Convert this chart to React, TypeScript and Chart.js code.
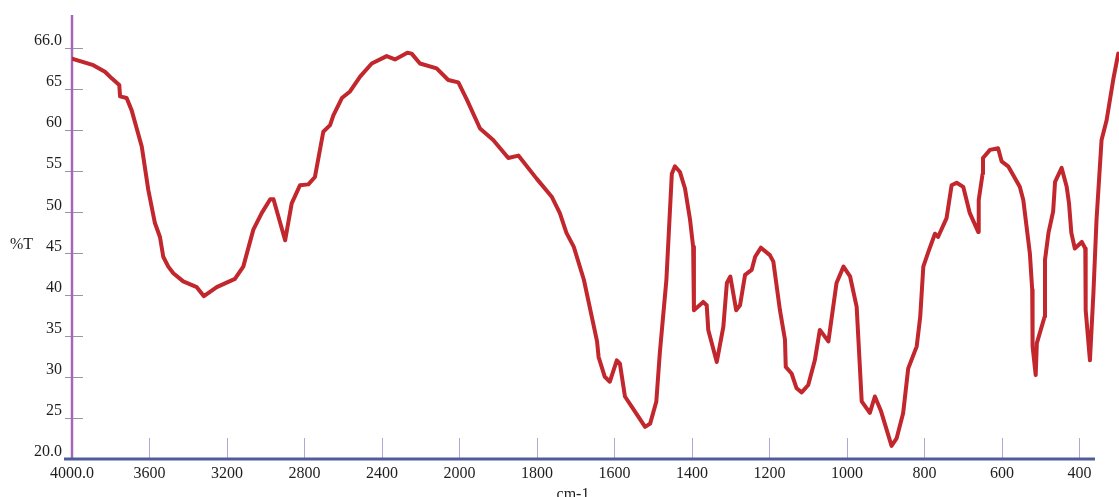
import React, { useEffect, useRef } from 'react';
import { Chart, registerables, LinearScale } from 'chart.js';

Chart.register(...registerables);

// ---- data (wavenumber in cm-1, transmittance as drawn) ----
const WAVENUMBERS = [
  4000, 3890, 3830, 3795, 3756, 3752, 3718, 3692, 3640, 3606, 3572, 3546, 3529, 3503, 3477, 3426, 3356, 3319,
  3253, 3159, 3116, 3064, 3021, 2977, 2960, 2900, 2866, 2823, 2780, 2746, 2703, 2668, 2651, 2607, 2565, 2513,
  2453, 2376, 2333, 2269, 2247, 2204, 2118, 2058, 2006, 1981, 1947, 1913, 1874, 1848, 1801, 1762, 1741, 1724,
  1705, 1679, 1645, 1641, 1625, 1612, 1594, 1586, 1573, 1556, 1521, 1508, 1492, 1483, 1466, 1452, 1444, 1431,
  1418, 1405, 1397, 1395, 1371, 1362, 1358, 1336, 1319, 1310, 1301, 1286, 1276, 1263, 1246, 1237, 1222, 1199,
  1190, 1173, 1160, 1158, 1143, 1130, 1117, 1100, 1083, 1070, 1048, 1027, 1009, 992, 975, 962, 941, 928, 912,
  885, 872, 855, 842, 820, 811, 803, 790, 773, 765, 743, 730, 717, 700, 683, 661, 660, 650, 649, 631, 610, 601,
  584, 554, 545, 528, 522, 521, 513, 510, 490, 489, 480, 468, 463, 446, 433, 427, 421, 412, 394, 385, 384, 373,
  364, 356, 343, 330, 313, 300,
];
const TRANSMITTANCE = [
  68.7, 67.9, 67.1, 66.3, 65.5, 64.1, 63.9, 62.4, 58.0, 52.7, 48.7, 47.0, 44.6, 43.4, 42.6, 41.6, 40.9, 39.8,
  40.9, 41.9, 43.4, 47.9, 49.9, 51.6, 51.6, 46.6, 51.1, 53.3, 53.4, 54.3, 59.8, 60.6, 61.8, 63.9, 64.7, 66.5,
  68.1, 69.0, 68.6, 69.4, 69.3, 68.1, 67.5, 66.1, 65.8, 63.7, 60.2, 58.8, 56.6, 56.9, 54.1, 51.9, 49.9, 47.5,
  45.8, 41.8, 34.3, 32.4, 30.0, 29.4, 32.0, 31.6, 27.6, 26.4, 23.9, 24.3, 27.0, 32.9, 41.8, 54.7, 55.6, 54.9,
  52.9, 49.1, 45.8, 38.1, 39.1, 38.7, 35.7, 31.8, 36.1, 41.4, 42.2, 38.1, 38.7, 42.4, 43.0, 44.6, 45.7, 44.8,
  44.0, 38.1, 34.5, 31.2, 30.4, 28.6, 28.1, 29.0, 32.0, 35.7, 34.3, 41.4, 43.4, 42.2, 38.5, 27.0, 25.6, 27.6, 25.8,
  21.6, 22.5, 25.6, 31.0, 33.7, 37.3, 43.4, 45.2, 47.4, 47.0, 49.3, 53.3, 53.6, 53.1, 49.9, 47.6, 51.5, 54.7, 56.6, 57.6, 57.8, 56.2,
  55.6, 53.1, 51.5, 45.0, 40.6, 33.7, 30.2, 34.1, 37.3, 44.2, 47.5, 50.1, 53.7, 55.4, 53.1, 51.1, 47.5, 45.6, 46.4, 45.6, 38.1, 32.0,
  40.2, 49.1, 58.8, 61.2, 66.1, 69.3,
];
const X_TICKS = [4000, 3600, 3200, 2800, 2400, 2000, 1800, 1600, 1400, 1200, 1000, 800, 600, 400];
const X_TICK_LABELS = ['4000.0', '3600', '3200', '2800', '2400', '2000', '1800', '1600', '1400', '1200', '1000', '800', '600', '400'];
const Y_TICKS = [20, 25, 30, 35, 40, 45, 50, 55, 60, 65, 70];
const Y_TICK_LABELS = ['20.0', '25', '30', '35', '40', '45', '50', '55', '60', '65', '66.0'];
const X_TITLE = 'cm-1';
const Y_TITLE = '%T';

// Spectrometer axis: 400 cm-1 per division above 2000, 200 cm-1 per division below.
function toU(wn: number) {
  return wn >= 2000 ? (4000 - wn) / 400 : 5 + (2000 - wn) / 200;
}
function fromU(u: number) {
  return u <= 5 ? 4000 - 400 * u : 2000 - 200 * (u - 5);
}

class WavenumberScale extends LinearScale {
  static id = 'wavenumber';
  static defaults = LinearScale.defaults;
  buildTicks() {
    return X_TICKS.map((value) => ({ value }));
  }
  getPixelForValue(value: number) {
    const u0 = toU(this.max);
    const u1 = toU(this.min);
    return this.getPixelForDecimal((toU(value) - u0) / (u1 - u0));
  }
  getValueForPixel(pixel: number) {
    const u0 = toU(this.max);
    const u1 = toU(this.min);
    return fromU(u0 + this.getDecimalForPixel(pixel) * (u1 - u0));
  }
}
Chart.register(WavenumberScale as any);

const FONT_FAMILY = '"Liberation Serif", "Times New Roman", serif';

const irAxesPlugin = {
  id: 'irAxes',
  beforeDatasetsDraw(chart: any) {
    const { ctx, chartArea, scales } = chart;
    const x = scales.x;
    const y = scales.y;
    const bottom = chartArea.bottom;
    const left = chartArea.left;
    ctx.save();
    // x tick marks (inside, upward)
    ctx.strokeStyle = '#b2a6d4';
    ctx.lineWidth = 1;
    X_TICKS.forEach((v) => {
      const px = Math.round(x.getPixelForValue(v)) + 0.5;
      ctx.beginPath();
      ctx.moveTo(px, bottom - 21);
      ctx.lineTo(px, bottom);
      ctx.stroke();
    });
    // y tick marks (crossing axis)
    ctx.strokeStyle = '#9a94a6';
    Y_TICKS.forEach((v) => {
      const py = Math.round(y.getPixelForValue(v)) + 0.5;
      ctx.beginPath();
      ctx.moveTo(left - 7, py);
      ctx.lineTo(left + 11, py);
      ctx.stroke();
    });
    // y axis line
    ctx.strokeStyle = '#a468b6';
    ctx.lineWidth = 2.5;
    ctx.beginPath();
    ctx.moveTo(left, chartArea.top);
    ctx.lineTo(left, bottom);
    ctx.stroke();
    // x axis line
    ctx.strokeStyle = '#4f5c9c';
    ctx.lineWidth = 3;
    ctx.beginPath();
    ctx.moveTo(left - 8, bottom);
    ctx.lineTo(x.getPixelForValue(360), bottom);
    ctx.stroke();
    // axis titles
    ctx.fillStyle = '#1e1e1e';
    ctx.font = '16px ' + FONT_FAMILY;
    ctx.textAlign = 'left';
    ctx.textBaseline = 'middle';
    ctx.fillText(Y_TITLE, 10, 245);
    ctx.textAlign = 'center';
    ctx.textBaseline = 'alphabetic';
    ctx.fillText(X_TITLE, 573, 499);
    ctx.restore();
  },
};

export default function App() {
  const canvasRef = useRef<HTMLCanvasElement | null>(null);

  useEffect(() => {
    const canvas = canvasRef.current;
    if (!canvas) return;
    const points = WAVENUMBERS.map((wn, i) => ({ x: wn, y: TRANSMITTANCE[i] }));
    const tickFont = { family: FONT_FAMILY, size: 16 };
    const chart = new Chart(canvas, {
      type: 'line',
      data: {
        datasets: [
          {
            data: points,
            borderColor: '#c1272d',
            borderWidth: 4,
            pointRadius: 0,
            tension: 0,
            borderJoinStyle: 'round',
            borderCapStyle: 'round',
            fill: false,
          },
        ],
      },
      options: {
        animation: false,
        responsive: false,
        maintainAspectRatio: false,
        events: [],
        layout: { padding: { top: 15, left: 0, right: 0, bottom: 0 } },
        plugins: {
          legend: { display: false },
          tooltip: { enabled: false },
          title: { display: false },
        },
        scales: {
          x: {
            type: 'wavenumber' as any,
            position: 'bottom',
            min: 298,
            max: 4000,
            grid: { display: false, drawTicks: false },
            border: { display: false },
            ticks: {
              autoSkip: false,
              maxRotation: 0,
              minRotation: 0,
              padding: 5,
              color: '#1e1e1e',
              font: tickFont,
              callback: (_v: any, index: number) => X_TICK_LABELS[index],
            },
            afterFit: (s: any) => {
              s.height = 38;
              s.paddingLeft = 0;
              s.paddingRight = 0;
            },
          },
          y: {
            type: 'linear',
            min: 20,
            max: 74,
            grid: { display: false, drawTicks: false },
            border: { display: false },
            afterBuildTicks: (s: any) => {
              s.ticks = Y_TICKS.map((value) => ({ value }));
            },
            ticks: {
              autoSkip: false,
              padding: 10,
              labelOffset: -7,
              color: '#1e1e1e',
              font: tickFont,
              callback: (_v: any, index: number) => Y_TICK_LABELS[index],
            },
            afterFit: (s: any) => {
              s.width = 72;
              s.paddingTop = 0;
              s.paddingBottom = 0;
            },
          },
        },
      } as any,
      plugins: [irAxesPlugin],
    });
    return () => chart.destroy();
  }, []);

  return (
    <div style={{ position: 'fixed', left: 0, top: 0, width: 1119, height: 497, background: '#ffffff' }}>
      <canvas ref={canvasRef} width={1119} height={497} style={{ display: 'block' }} />
    </div>
  );
}
